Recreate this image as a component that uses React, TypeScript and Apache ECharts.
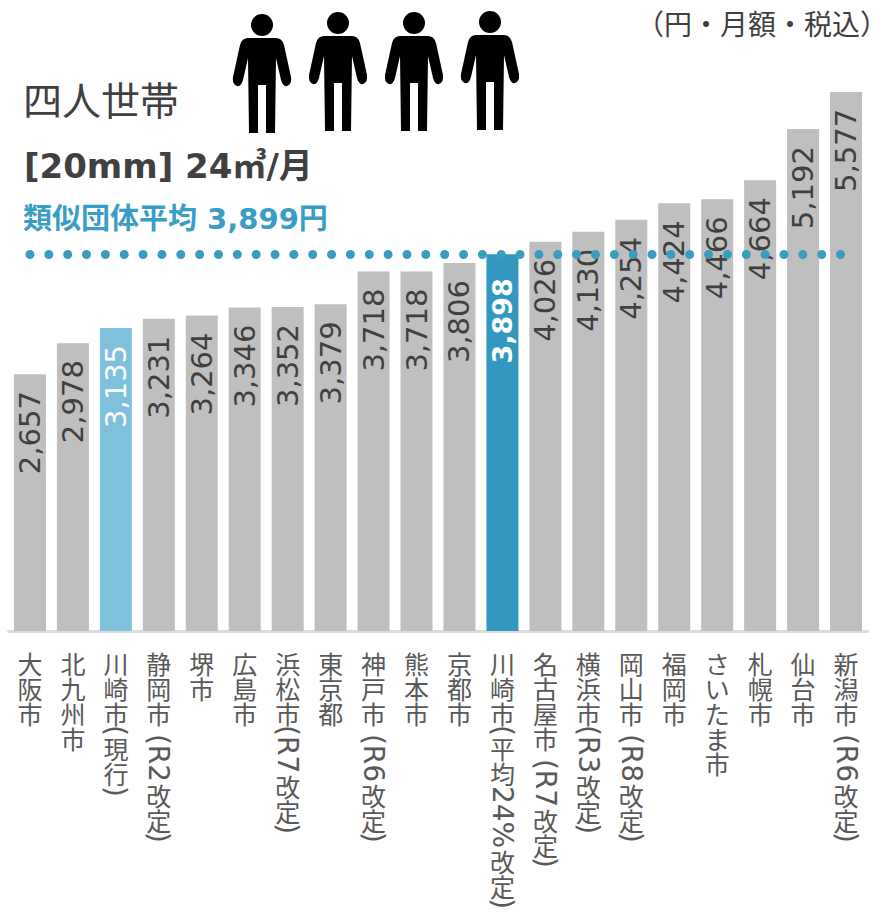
import React, { useEffect, useRef } from "react";
import * as echarts from "echarts";

const categories = ["大阪市","北九州市","川崎市(現行)","静岡市 (R2改定)","堺市","広島市","浜松市(R7改定)","東京都","神戸市 (R6改定)","熊本市","京都市","川崎市(平均24%改定)","名古屋市 (R7改定)","横浜市(R3改定)","岡山市 (R8改定)","福岡市","さいたま市","札幌市","仙台市","新潟市 (R6改定)"];
const values = [2657,2978,3135,3231,3264,3346,3352,3379,3718,3718,3806,3898,4026,4130,4254,4424,4466,4664,5192,5577];
const average = 3899;
const lightIndex = 2;
const darkIndex = 11;
const people = [[262,14],[338,12],[414,12],[490,11]];

const LATIN = '"DejaVu Sans"';
const CJK = '"Noto Sans CJK JP"';
const MIX = '"DejaVu Sans","Noto Sans CJK JP",sans-serif';

const PERSON = "M-11 11a11 11 0 1 0 22 0a11 11 0 1 0 -22 0Z M-14 24 L14 24 Q20 24 22 31 L29 63 Q30 70 25 72 Q21 73 19 66 L14 44 L13 119 L4 119 L4 71 L-4 71 L-4 119 L-13 119 L-14 44 L-19 66 Q-21 73 -25 72 Q-30 70 -29 63 L-22 31 Q-20 24 -14 24 Z";
echarts.graphic.registerShape("person", echarts.graphic.extendPath(PERSON, {}) as any);

const measure = document.createElement("canvas").getContext("2d")!;
function runs(label: string) {
  const out: { text: string; latin: boolean }[] = [];
  for (const ch of label) {
    const latin = ch.charCodeAt(0) < 128;
    const last = out[out.length - 1];
    if (last && last.latin === latin) last.text += ch;
    else out.push({ text: ch, latin });
  }
  return out;
}

function renderLabel(params: any, api: any) {
  const x = api.coord([api.value(0), 0])[0];
  const label = categories[params.dataIndex];
  let y = 650;
  const children: any[] = [];
  const size = 25;
  const latinSize = 28;
  const pitch = 25;
  for (const r of runs(label)) {
    if (r.latin) {
      measure.font = `${latinSize}px ${LATIN}`;
      const w = measure.measureText(r.text).width;
      children.push({
        type: "text", x, y, rotation: -Math.PI / 2,
        style: { text: r.text, fontSize: latinSize, fontFamily: LATIN, fill: "#595959", textAlign: "left", textVerticalAlign: "middle" },
      });
      y += w;
    } else {
      const chars = Array.from(r.text);
      children.push({
        type: "text", x, y,
        style: { text: chars.join("\n"), fontSize: size, lineHeight: pitch, fontFamily: CJK, fill: "#595959", textAlign: "center", textVerticalAlign: "top" },
      });
      y += pitch * chars.length;
    }
  }
  return { type: "group", children };
}

export default function App() {
  const ref = useRef<HTMLDivElement>(null);
  useEffect(() => {
    const chart = echarts.init(ref.current!, undefined, { renderer: "svg" });
    chart.setOption({
      animation: false,
      backgroundColor: "#ffffff",
      grid: { left: 8.5, right: 22.5, top: 51, bottom: 282 },
      xAxis: {
        type: "category", data: categories,
        axisTick: { show: false }, axisLabel: { show: false },
        axisLine: { show: true, lineStyle: { color: "#dcdcdc", width: 3 } },
      },
      yAxis: { type: "value", min: 0, max: 6000, show: false, splitLine: { show: false } },
      series: [
        {
          type: "bar", barWidth: 32,
          data: values.map((v, i) => ({
            value: v,
            itemStyle: { color: i === lightIndex ? "#7fc0dc" : i === darkIndex ? "#3398bf" : "#bfbfbf" },
            label: i === lightIndex
              ? { color: "#ffffff" }
              : i === darkIndex
                ? { color: "#ffffff", fontWeight: "bold", fontSize: 27, distance: 24 }
                : undefined,
          })),
          label: {
            show: true, position: "insideTop", distance: 17, rotate: 90,
            align: "right", verticalAlign: "middle",
            fontSize: 29, fontFamily: LATIN, color: "#404040",
            formatter: (p: any) => Number(p.value).toLocaleString("en-US"),
          },
          markLine: {
            silent: true, symbol: "none", label: { show: false },
            lineStyle: { color: "#3a9dbf", width: 9, type: [0, 18.85], cap: "round", opacity: 1 },
            data: [[{ coord: [0, average] }, { coord: [19, average] }]],
          },
        },
        {
          type: "custom", silent: true, renderItem: renderLabel, clip: false,
          encode: { x: 0, y: 1 },
          data: categories.map((_, i) => [i, 0]),
        },
      ],
      graphic: [
        ...people.map(([x, y]) => ({ type: "person", x, y, style: { fill: "#000000" } })),
        { type: "text", x: 23, y: 98, style: { text: "四人世帯", font: `39px ${CJK}`, fill: "#404040", textVerticalAlign: "middle" } },
        { type: "text", x: 24, y: 166, style: { text: "[20mm] 24㎥/月", font: `bold 34px ${MIX}`, fill: "#404040", textVerticalAlign: "middle" } },
        { type: "text", x: 23, y: 219, style: { text: "類似団体平均 3,899円", font: `bold 29px ${MIX}`, fill: "#3a9dc4", textVerticalAlign: "middle" } },
        { type: "text", x: 888, y: 23, style: { text: "（円・月額・税込）", font: `28px ${CJK}`, fill: "#404040", textAlign: "right", textVerticalAlign: "middle" } },
      ],
    } as any);
    return () => chart.dispose();
  }, []);
  return <div ref={ref} style={{ position: "absolute", left: 0, top: 0, width: 890, height: 913 }} />;
}
